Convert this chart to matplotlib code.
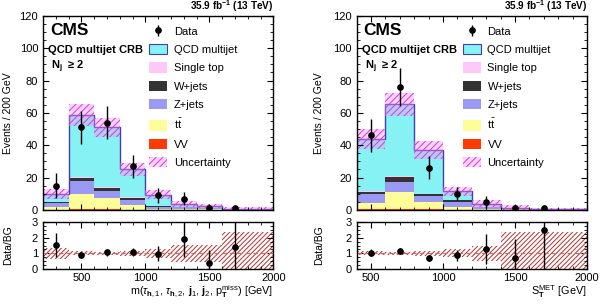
import numpy as np
import matplotlib
matplotlib.use('Agg')
import matplotlib.pyplot as plt
from matplotlib.patches import Patch
from matplotlib.ticker import MultipleLocator

plt.rcParams['font.family'] = ['Liberation Sans', 'DejaVu Sans']
plt.rcParams['mathtext.fontset'] = 'custom'
plt.rcParams['mathtext.rm'] = 'Liberation Sans'
plt.rcParams['mathtext.it'] = 'Liberation Sans:italic'
plt.rcParams['mathtext.bf'] = 'Liberation Sans:bold'
plt.rcParams['hatch.linewidth'] = 0.7

# ---------------- data: left panel (m(tau,tau,j,j,MET)) ----------------
edges_L = [200, 400, 600, 800, 1000, 1200, 1400, 1600, 2000]
vv_L    = [0.2, 0.3, 0.3, 0.2, 0.1, 0.05, 0.05, 0.02]
tt_L    = [1.5, 9.5, 7.0, 2.8, 0.6, 0.3, 0.2, 0.05]
zj_L    = [2.5, 8.0, 4.5, 3.0, 1.2, 1.2, 0.6, 0.2]
wj_L    = [0.6, 2.0, 2.0, 1.5, 0.5, 0.3, 0.2, 0.05]
st_L    = [0.2, 0.5, 0.4, 0.3, 0.1, 0.05, 0.05, 0.02]
qcd_L   = [4.7, 38.3, 36.8, 17.2, 6.8, 1.8, 1.4, 0.46]
unc_L   = [3.2, 7.0, 6.0, 4.2, 2.8, 2.0, 1.4, 1.1]
datax_L = [300, 500, 700, 900, 1100, 1300, 1500, 1700]
data_L  = [15, 51, 54, 27, 9, 7, 1, 1.1]
derr_L  = [7.5, 10, 10, 7, 4.5, 4.2, 2.0, 1.5]

# ---------------- data: right panel (S_T^MET) ----------------
edges_R = [400, 600, 800, 1000, 1200, 1400, 1600, 2000]
vv_R    = [0.3, 0.4, 0.3, 0.2, 0.1, 0.03, 0.01]
tt_R    = [3.8, 10.4, 4.7, 1.6, 0.4, 0.2, 0.05]
zj_R    = [5.8, 6.5, 3.4, 3.0, 1.2, 0.5, 0.1]
wj_R    = [1.2, 3.0, 1.3, 1.0, 0.3, 0.1, 0.03]
st_R    = [0.3, 0.5, 0.3, 0.2, 0.1, 0.05, 0.01]
qcd_R   = [32.5, 44.4, 26.9, 5.4, 1.8, 0.52, 0.2]
unc_R   = [6.0, 7.3, 5.5, 3.0, 1.9, 1.9, 0.55]
datax_R = [500, 700, 900, 1100, 1300, 1500, 1700]
data_R  = [46, 76, 26, 10, 5, 1, 1]
derr_R  = [10, 12, 7, 4, 3.8, 1.7, 1.0]

labels = ['QCD multijet', 'Single top', 'W+jets', 'Z+jets', r'$\mathrm{t\bar{t}}$', 'VV']
colors = {'qcd': '#86f2f4', 'st': '#ffc8f8', 'wj': '#333333', 'zj': '#9a9af4',
          'tt': '#fdfd9a', 'vv': '#ff3a05'}

fig = plt.figure(figsize=(6.03, 3.05), dpi=100)


def panel(left, edges, vv, tt, zj, wj, st, qcd, unc, dx, data, derr, xlabel, ylab_x):
    w_ax = 0.382
    ax = fig.add_axes([left, 0.312, w_ax, 0.636])
    axr = fig.add_axes([left, 0.118, w_ax, 0.154])
    edges = np.array(edges, float)
    lefts = edges[:-1]
    widths = np.diff(edges)
    bottom = np.zeros(len(lefts))
    for vals, key in [(vv, 'vv'), (tt, 'tt'), (zj, 'zj'), (wj, 'wj'), (st, 'st'), (qcd, 'qcd')]:
        vals = np.array(vals, float)
        ax.bar(lefts, vals, width=widths, bottom=bottom, align='edge',
               color=colors[key], linewidth=0)
        bottom = bottom + vals
    total = bottom
    unc = np.array(unc, float)
    ax.stairs(total, edges, color='#4040a8', lw=1.0, baseline=None)
    ax.bar(lefts, 2 * unc, width=widths, bottom=total - unc, align='edge',
           facecolor=(1.0, 0.55, 1.0, 0.40), edgecolor='#d040d0', hatch='/////',
           linewidth=0)
    eb = ax.errorbar(dx, data, yerr=derr, fmt='o', color='k', ms=3.8,
                     elinewidth=1.0, capsize=0, zorder=5)
    ax.set_xlim(edges[0], edges[-1])
    ax.set_ylim(0, 120)
    ax.yaxis.set_major_locator(MultipleLocator(20))
    ax.yaxis.set_minor_locator(MultipleLocator(5))
    ax.xaxis.set_major_locator(MultipleLocator(500))
    ax.xaxis.set_minor_locator(MultipleLocator(100))
    ax.tick_params(which='both', direction='in', top=True, right=True, labelsize=8)
    ax.tick_params(which='major', length=4.5)
    ax.tick_params(which='minor', length=2.5)
    ax.tick_params(axis='x', labelbottom=False)
    ax.set_ylabel('Events / 200 GeV', fontsize=7.5)
    ax.yaxis.set_label_coords(ylab_x, 0.5)

    ax.text(0.03, 0.965, 'CMS', transform=ax.transAxes, fontsize=12.5,
            fontweight='bold', va='top', ha='left')
    ax.text(0.022, 0.852, 'QCD multijet CRB', transform=ax.transAxes, fontsize=8,
            fontweight='bold', va='top', ha='left')
    ax.text(0.035, 0.78, r'N$_{\mathregular{j}}$  ≥ 2', transform=ax.transAxes,
            fontsize=8, fontweight='bold', va='top', ha='left')
    ax.text(1.0, 1.008, r'35.9 fb$^{\mathregular{-1}}$ (13 TeV)', transform=ax.transAxes,
            fontsize=7.2, fontweight='bold', va='bottom', ha='right')

    handles = [eb,
               Patch(facecolor=colors['qcd'], edgecolor='#4040a8', lw=0.8),
               Patch(facecolor=colors['st'], lw=0),
               Patch(facecolor=colors['wj'], lw=0),
               Patch(facecolor=colors['zj'], lw=0),
               Patch(facecolor=colors['tt'], lw=0),
               Patch(facecolor=colors['vv'], lw=0),
               Patch(facecolor=(1.0, 0.55, 1.0, 0.40), edgecolor='#d040d0',
                     hatch='/////', lw=0)]
    ax.legend(handles, ['Data'] + labels + ['Uncertainty'], loc='upper left',
              bbox_to_anchor=(0.452, 0.96), frameon=False, fontsize=8,
              handlelength=1.6, handleheight=1.05, labelspacing=0.66,
              handletextpad=0.6, borderpad=0.2, borderaxespad=0)

    # ratio panel
    data = np.array(data, float)
    derr = np.array(derr, float)
    centers_idx = np.searchsorted(edges, dx) - 1
    tot_at = total[centers_idx]
    runc = unc / total
    axr.bar(lefts, 2 * runc, width=widths, bottom=1 - runc, align='edge',
            facecolor='none', edgecolor='#b83030', hatch='///////', linewidth=0)
    axr.axhline(1, color='#e06060', lw=0.8, ls=(0, (4, 3)))
    axr.errorbar(dx, data / tot_at, yerr=derr / tot_at, fmt='o', color='k',
                 ms=3.8, elinewidth=1.0, capsize=0, zorder=5)
    axr.set_xlim(edges[0], edges[-1])
    axr.set_ylim(0, 3)
    axr.yaxis.set_major_locator(MultipleLocator(1))
    axr.yaxis.set_minor_locator(MultipleLocator(0.25))
    axr.xaxis.set_major_locator(MultipleLocator(500))
    axr.xaxis.set_minor_locator(MultipleLocator(100))
    axr.tick_params(which='both', direction='in', top=True, right=True, labelsize=8)
    axr.tick_params(which='major', length=4.5)
    axr.tick_params(which='minor', length=2.5)
    axr.tick_params(axis='x', pad=3)
    axr.set_ylabel('Data/BG', fontsize=7.5)
    axr.yaxis.set_label_coords(ylab_x, 0.5)
    axr.set_xlabel(xlabel, fontsize=7.8, loc='right', labelpad=0)
    for a in (ax, axr):
        for s in a.spines.values():
            s.set_linewidth(1.0)


panel(0.0713, edges_L, vv_L, tt_L, zj_L, wj_L, st_L, qcd_L, unc_L, datax_L, data_L, derr_L,
      r'm($\tau_{\mathbf{h},1}$, $\tau_{\mathbf{h},2}$, $\mathbf{j}_{1}$, $\mathbf{j}_{2}$, $\mathregular{p}_{\mathbf{T}}^{\mathregular{miss}}$) [GeV]',
      -0.13)
panel(0.5915, edges_R, vv_R, tt_R, zj_R, wj_R, st_R, qcd_R, unc_R, datax_R, data_R, derr_R,
      r'$\mathregular{S}_{\mathbf{T}}^{\mathregular{MET}}$ [GeV]', -0.14)

fig.savefig('out.png', dpi=100)
